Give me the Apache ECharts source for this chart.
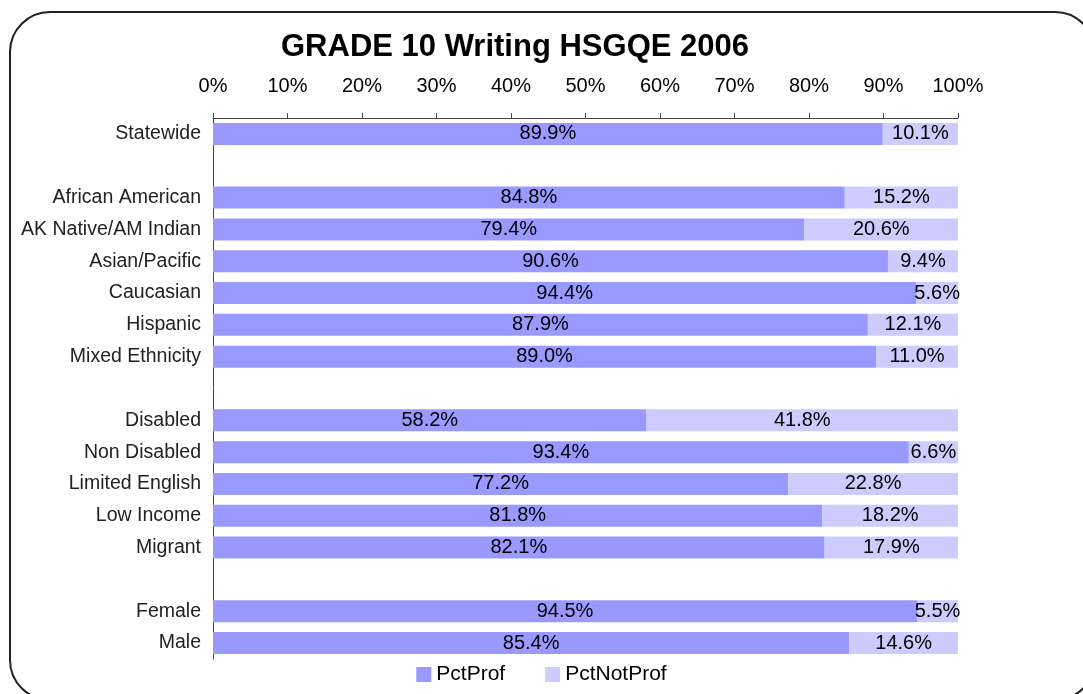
<!DOCTYPE html>
<html>
<head>
<meta charset="utf-8">
<script src="https://cdn.jsdelivr.net/npm/echarts@6/dist/echarts.min.js"></script>
<style>
  html, body { margin: 0; padding: 0; background: #fff; }
  #chart { width: 1083px; height: 694px; }
</style>
</head>
<body>
<div id="chart"></div>
<script>
// empty strings are the spacer rows between groups
const categories = [
  'Statewide', '',
  'African American', 'AK Native/AM Indian', 'Asian/Pacific', 'Caucasian', 'Hispanic', 'Mixed Ethnicity', '',
  'Disabled', 'Non Disabled', 'Limited English', 'Low Income', 'Migrant', '',
  'Female', 'Male'
]
const pctProf = [
  89.9, null,
  84.8, 79.4, 90.6, 94.4, 87.9, 89.0, null,
  58.2, 93.4, 77.2, 81.8, 82.1, null,
  94.5, 85.4
]
const pctNotProf = [
  10.1, null,
  15.2, 20.6, 9.4, 5.6, 12.1, 11.0, null,
  41.8, 6.6, 22.8, 18.2, 17.9, null,
  5.5, 14.6
]
const xTicks = [0, 10, 20, 30, 40, 50, 60, 70, 80, 90, 100]

const font = 'Liberation Sans, Arial, sans-serif'
const chart = echarts.init(document.getElementById('chart'))

const toData = arr => arr.map(v => (v == null ? '-' : v))
const barLabel = {
  show: true,
  position: 'inside',
  color: '#000',
  fontFamily: font,
  fontSize: 20,
  formatter: p => p.value.toFixed(1) + '%'
}

chart.setOption({
  animation: false,
  graphic: [{
    type: 'rect',
    shape: { x: 10, y: 12, width: 1085, height: 688, r: 40 },
    style: { fill: 'none', stroke: '#222', lineWidth: 2 },
    silent: true
  }],
  title: {
    text: 'GRADE 10 Writing HSGQE 2006',
    left: 510,
    textAlign: 'center',
    top: 27,
    textStyle: { fontFamily: font, fontSize: 31, fontWeight: 'bold', color: '#000' }
  },
  legend: {
    bottom: 4,
    left: 'center',
    itemWidth: 15,
    itemHeight: 15,
    itemGap: 40,
    icon: 'rect',
    textStyle: { fontFamily: font, fontSize: 21, color: '#000' },
    data: ['PctProf', 'PctNotProf']
  },
  grid: { left: 213, right: 125, top: 118, bottom: 35 },
  xAxis: {
    type: 'value',
    position: 'top',
    min: 0,
    max: 100,
    interval: 10,
    axisLine: { show: true, lineStyle: { color: '#444', width: 1 } },
    axisTick: { show: true, length: 5, lineStyle: { color: '#444' } },
    splitLine: { show: false },
    axisLabel: {
      margin: 22,
      fontFamily: font,
      fontSize: 20,
      color: '#000',
      formatter: v => (xTicks.includes(v) ? v + '%' : '')
    }
  },
  yAxis: {
    type: 'category',
    inverse: true,
    data: categories,
    axisLine: { show: true, lineStyle: { color: '#444', width: 1 } },
    axisTick: { show: false },
    axisLabel: { margin: 12, fontFamily: font, fontSize: 19.5, color: '#222' }
  },
  series: [
    {
      name: 'PctProf',
      type: 'bar',
      stack: 'all',
      barWidth: 22,
      data: toData(pctProf),
      itemStyle: { color: '#9999ff' },
      label: barLabel
    },
    {
      name: 'PctNotProf',
      type: 'bar',
      stack: 'all',
      barWidth: 22,
      data: toData(pctNotProf),
      itemStyle: { color: '#ccccff' },
      label: barLabel
    }
  ]
})
</script>
</body>
</html>
